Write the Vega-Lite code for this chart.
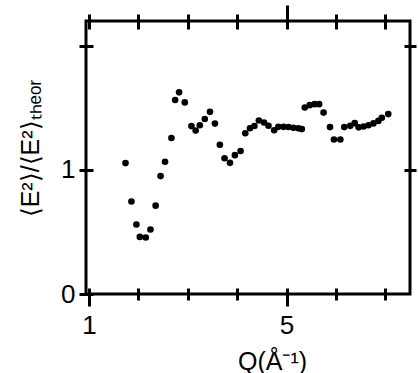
{
  "$schema": "https://vega.github.io/schema/vega-lite/v6.json",
  "width": 324,
  "height": 273,
  "autosize": {"type": "none"},
  "padding": {"left": 86, "top": 21, "right": 8, "bottom": 79},
  "background": "white",
  "config": {
    "view": {"stroke": "black", "strokeWidth": 3},
    "axis": {
      "domain": false,
      "grid": false,
      "tickColor": "black",
      "tickWidth": 3,
      "labelColor": "black",
      "labelFont": "Liberation Sans",
      "labelFontSize": 26,
      "titleColor": "black",
      "titleFont": "Liberation Sans",
      "titleFontWeight": "normal"
    }
  },
  "data": {
    "values": [
      {"Q": 1.74, "R": 1.055}, {"Q": 1.86, "R": 0.745}, {"Q": 1.96, "R": 0.56},
      {"Q": 2.03, "R": 0.46}, {"Q": 2.15, "R": 0.455}, {"Q": 2.245, "R": 0.52},
      {"Q": 2.35, "R": 0.712}, {"Q": 2.45, "R": 0.95}, {"Q": 2.54, "R": 1.066},
      {"Q": 2.67, "R": 1.257}, {"Q": 2.745, "R": 1.563}, {"Q": 2.825, "R": 1.625},
      {"Q": 2.94, "R": 1.544}, {"Q": 3.075, "R": 1.353}, {"Q": 3.16, "R": 1.317},
      {"Q": 3.245, "R": 1.36}, {"Q": 3.345, "R": 1.41}, {"Q": 3.45, "R": 1.468},
      {"Q": 3.55, "R": 1.373}, {"Q": 3.65, "R": 1.203}, {"Q": 3.745, "R": 1.094},
      {"Q": 3.855, "R": 1.057}, {"Q": 3.955, "R": 1.119}, {"Q": 4.07, "R": 1.152},
      {"Q": 4.165, "R": 1.295}, {"Q": 4.26, "R": 1.336}, {"Q": 4.35, "R": 1.354},
      {"Q": 4.44, "R": 1.398}, {"Q": 4.545, "R": 1.382}, {"Q": 4.635, "R": 1.356},
      {"Q": 4.75, "R": 1.32}, {"Q": 4.835, "R": 1.347}, {"Q": 4.94, "R": 1.347},
      {"Q": 5.04, "R": 1.346}, {"Q": 5.14, "R": 1.34}, {"Q": 5.24, "R": 1.335},
      {"Q": 5.31, "R": 1.329}, {"Q": 5.37, "R": 1.503}, {"Q": 5.47, "R": 1.522},
      {"Q": 5.57, "R": 1.53}, {"Q": 5.66, "R": 1.53}, {"Q": 5.75, "R": 1.462},
      {"Q": 5.88, "R": 1.345}, {"Q": 5.96, "R": 1.245}, {"Q": 6.09, "R": 1.245},
      {"Q": 6.17, "R": 1.345}, {"Q": 6.29, "R": 1.355}, {"Q": 6.38, "R": 1.377},
      {"Q": 6.46, "R": 1.343}, {"Q": 6.56, "R": 1.35}, {"Q": 6.66, "R": 1.36},
      {"Q": 6.76, "R": 1.375}, {"Q": 6.86, "R": 1.395}, {"Q": 6.93, "R": 1.42},
      {"Q": 7.06, "R": 1.45}
    ]
  },
  "layer": [
    {
      "mark": {"type": "circle", "size": 44, "color": "black", "opacity": 1},
      "encoding": {
        "x": {
          "field": "Q", "type": "quantitative",
          "scale": {"domain": [0.94, 7.5], "nice": false, "zero": false},
          "axis": {
            "orient": "bottom",
            "values": [1, 2, 3, 4, 5, 6, 7],
            "offset": -6,
            "tickSize": {"condition": {"test": "datum.value == 1 || datum.value == 5", "value": 18}, "value": 12},
            "labelExpr": "datum.value == 1 || datum.value == 5 ? datum.label : ''",
            "labelPadding": 6,
            "title": "Q(Å⁻¹)",
            "titleFontSize": 25,
            "titleX": 186,
            "titleY": 81,
            "titleAlign": "center",
            "titleBaseline": "alphabetic"
          }
        },
        "y": {
          "field": "R", "type": "quantitative",
          "scale": {"domain": [0, 2.2], "nice": false, "zero": true},
          "axis": {
            "orient": "left",
            "values": [0, 1, 2],
            "offset": -7,
            "tickSize": 14,
            "labelExpr": "datum.value == 2 ? '' : datum.label",
            "labelPadding": 4,
            "labelBaseline": "middle",
            "title": "⟨E²⟩/⟨E²⟩ₜₕₑₒᵣ",
            "titleFontSize": 25,
            "titleAngle": -90,
            "titleX": -63,
            "titleY": 127,
            "titleAlign": "center",
            "titleBaseline": "middle"
          }
        }
      }
    },
    {
      "mark": {"type": "circle", "opacity": 0},
      "encoding": {
        "x": {
          "field": "Q", "type": "quantitative",
          "axis": {
            "orient": "top",
            "values": [1, 2, 3, 4, 5, 6, 7],
            "offset": -8,
            "tickSize": {"condition": {"test": "datum.value == 5", "value": 24}, "value": 15},
            "labels": false,
            "title": null
          }
        },
        "y": {
          "field": "R", "type": "quantitative",
          "axis": {
            "orient": "right",
            "values": [1, 2],
            "offset": -6,
            "tickSize": 12,
            "labels": false,
            "title": null
          }
        }
      }
    }
  ],
  "resolve": {"axis": {"x": "independent", "y": "independent"}}
}
